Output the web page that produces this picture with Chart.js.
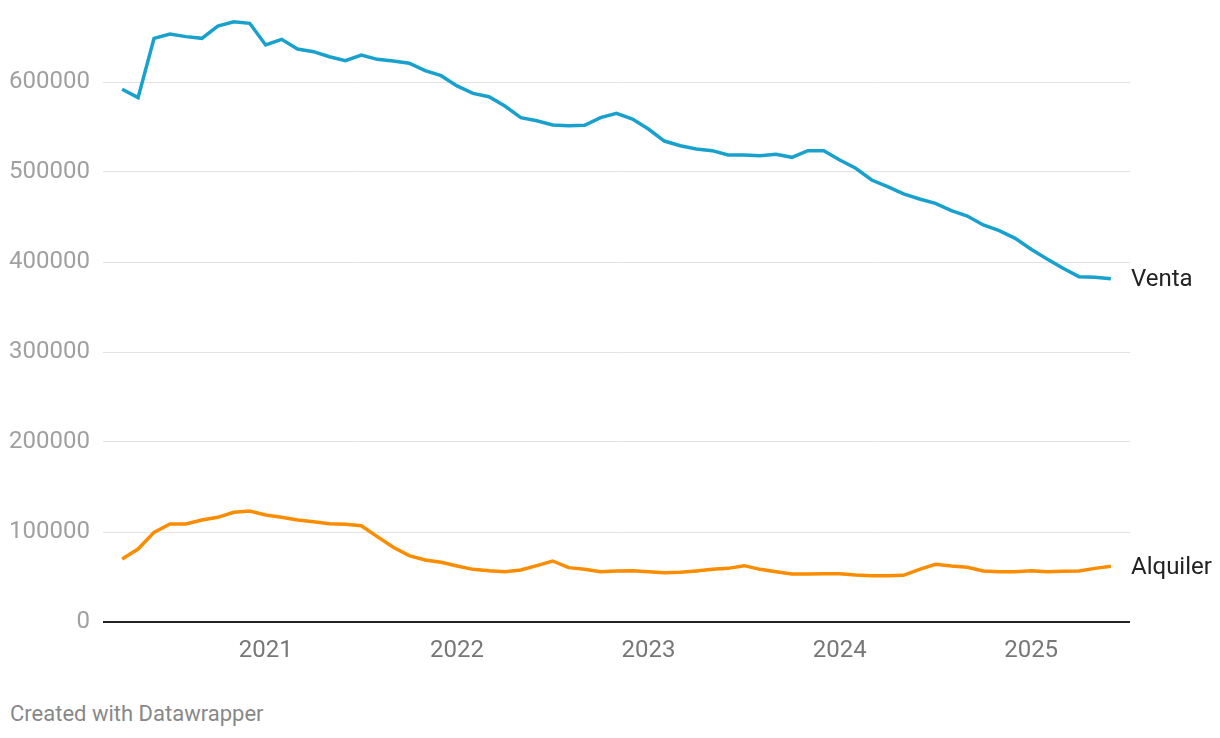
<!DOCTYPE html>
<html>
<head>
<meta charset="utf-8">
<script src="https://cdn.jsdelivr.net/npm/chart.js@4"></script>
<style>
  body { margin: 0; background: #fff; font-family: Roboto, sans-serif; }
  #wrap { position: relative; width: 1220px; height: 680px; }
  #note { position: absolute; left: 10px; top: 701px; font-size: 22px; color: #888; }
</style>
</head>
<body>
<div id="wrap"><canvas id="myChart"></canvas></div>
<div id="note">Created with Datawrapper</div>
<script>
// monthly, April 2020 .. June 2025
var months = [];
for (var y = 2020; y <= 2025; y++) {
    for (var m = 1; m <= 12; m++) {
        if ((y == 2020 && m < 4) || (y == 2025 && m > 6)) continue;
        months.push(y + '-' + (m < 10 ? '0' + m : m));
    }
}

var venta = [
    591900, 582600, 648500, 653300, 650400, 648500, 662200, 667000, 665200,
    641100, 647400, 636700, 633700, 628100, 623700, 630000, 625200, 623300, 620800, 612600, 607000, 595600,
    587400, 583700, 573300, 560400, 557000, 552200, 551500, 551900, 560400, 565200, 558900, 547800,
    534400, 529200, 525600, 523700, 518900, 518900, 518100, 519700, 516300, 523700, 523700, 513300,
    504100, 491100, 483700, 475600, 470000, 465200, 457000, 451100, 441100, 434800, 426300, 414100,
    403300, 393000, 383700, 383000, 381500
];

var alquiler = [
    70000, 81100, 99600, 108900, 108900, 113300, 116300, 121900, 123300,
    118900, 116300, 113300, 111500, 109300, 108500, 107000, 94800, 83000, 73700, 68900, 66300, 62200,
    58500, 57000, 55900, 57800, 62600, 67800, 60400, 58500, 55900, 56700, 57000, 55900,
    54800, 55200, 56700, 58500, 59600, 62600, 58500, 55900, 53300, 53300, 53700, 53700,
    52200, 51500, 51500, 51900, 58500, 64100, 62200, 60800, 56700, 55900, 55900, 57000,
    55900, 56300, 56700, 59600, 61900
];

var yTicks = [0, 100000, 200000, 300000, 400000, 500000, 600000];
var yearLabels = ['2021', '2022', '2023', '2024', '2025'];

function pts(arr) {
    return arr.map(function(v, i) { return { x: i, y: v }; });
}
function yearIndex(yr) {
    return months.indexOf(yr + '-01');
}

// series name at the end of each line
var endLabels = {
    id: 'endLabels',
    afterDatasetsDraw: function(chart) {
        var c = chart.ctx;
        c.save();
        c.font = '24px Roboto';
        c.fillStyle = '#222';
        c.textBaseline = 'middle';
        chart.data.datasets.forEach(function(ds, i) {
            var meta = chart.getDatasetMeta(i);
            var last = meta.data[meta.data.length - 1];
            c.fillText(ds.label, chart.chartArea.right + 1, last.y + 1.5);
        });
        c.restore();
    }
};

var ctx = document.getElementById("myChart").getContext('2d');
var myChart = new Chart(ctx, {
    type: 'line',
    data: {
        datasets: [{
            label: 'Venta',
            data: pts(venta),
            borderColor: '#18a1cd',
            borderWidth: 3.5,
            pointRadius: 0,
            tension: 0
        }, {
            label: 'Alquiler',
            data: pts(alquiler),
            borderColor: '#fa8c00',
            borderWidth: 3.5,
            pointRadius: 0,
            tension: 0
        }]
    },
    options: {
        responsive: true,
        maintainAspectRatio: false,
        animation: false,
        layout: { padding: { top: 10, right: 90, bottom: 0, left: 0 } },
        plugins: { legend: { display: false }, tooltip: { enabled: false } },
        scales: {
            x: {
                type: 'linear',
                min: -1.2,
                max: 63.2,
                afterBuildTicks: function(s) {
                    s.ticks = yearLabels.map(function(yr) { return { value: yearIndex(yr) }; });
                },
                afterFit: function(s) { s.height = 58; },
                grid: { display: false, drawTicks: false },
                border: { display: false },
                ticks: {
                    color: '#777',
                    font: { family: 'Roboto', size: 24 },
                    padding: 15,
                    maxRotation: 0,
                    callback: function(v) { return months[v].slice(0, 4); }
                }
            },
            y: {
                min: 0,
                max: 680000,
                afterBuildTicks: function(s) {
                    s.ticks = yTicks.map(function(v) { return { value: v }; });
                },
                afterFit: function(s) {
                    s.width = 103;
                    s.paddingTop = 0;
                    s.paddingBottom = 0;
                },
                border: { display: false },
                grid: {
                    drawTicks: false,
                    color: function(c) { return c.tick && c.tick.value === 0 ? '#222' : '#e3e3e3'; },
                    lineWidth: function(c) { return c.tick && c.tick.value === 0 ? 2 : 1; }
                },
                ticks: {
                    color: '#a0a0a0',
                    font: { family: 'Roboto', size: 24 },
                    padding: 13,
                    callback: function(v) { return String(v); }
                }
            }
        }
    },
    plugins: [endLabels]
});
</script>
</body>
</html>
